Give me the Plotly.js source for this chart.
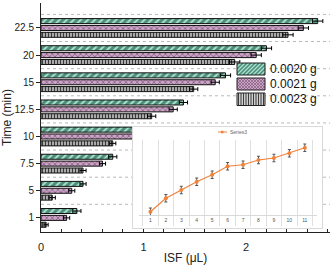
<!DOCTYPE html>
<html><head><meta charset="utf-8">
<script src="https://cdn.plot.ly/plotly-3.0.1.min.js"></script>
<style>html,body{margin:0;padding:0;background:#fff}#c{width:330px;height:265px}</style>
</head><body><div id="c"></div>
<script>
// main bar chart data (ISF in µL by time in min)
var times = ['1','5','7.5','10','12.5','15','20','22.5'];
var g20 = [0.35, 0.41, 0.70, 1.05, 1.39, 1.80, 2.20, 2.70];
var g21 = [0.25, 0.30, 0.60, 0.95, 1.29, 1.70, 2.10, 2.56];
var g23 = [0.05, 0.11, 0.41, 0.70, 1.08, 1.49, 1.89, 2.41];
var e20 = [0.04, 0.03, 0.04, 0.04, 0.04, 0.05, 0.05, 0.05];
var e21 = [0.03, 0.03, 0.03, 0.04, 0.04, 0.04, 0.05, 0.05];
var e23 = [0.02, 0.03, 0.03, 0.03, 0.04, 0.04, 0.05, 0.05];
var seriesNames = ['0.0020 g', '0.0021 g', '0.0023 g'];
// inset line chart data
var insetCats = ['1','2','3','4','5','6','7','8','9','10','11'];
var insetVals = [0.13, 0.67, 1.00, 1.33, 1.61, 1.95, 2.01, 2.20, 2.28, 2.47, 2.69];
var insetErr = [0.15, 0.15, 0.15, 0.15, 0.15, 0.15, 0.15, 0.15, 0.15, 0.15, 0.15];
var insetName = 'Series3';

var W = 330, H = 265, ML = 41, MR = 0, MT = 3, MB = 33;
var PW = W - ML - MR, PH = H - MT - MB;
function px(x) { return (x - ML) / PW; }          // pixel -> paper x
function py(y) { return (H - MB - y) / PH; }      // pixel -> paper y

var FONT = 'Liberation Sans, Arial, sans-serif';
var styles = [
  {bg: '#4e8d7a', fg: '#a9e3cf', shape: '/', size: 5, sol: 0.4},
  {bg: '#cba5c6', fg: '#7a4c74', shape: 'x', size: 4, sol: 0.3},
  {bg: '#cfcfcf', fg: '#3a3a3a', shape: '|', size: 3, sol: 0.5}
];
function barTrace(vals, errs, name, s) {
  return {
    type: 'bar', orientation: 'h', y: times, x: vals, name: name, showlegend: false,
    marker: {color: s.bg, line: {color: '#111', width: 1},
      pattern: {shape: s.shape, bgcolor: s.bg, fgcolor: s.fg, size: s.size, solidity: s.sol}},
    error_x: {type: 'data', array: errs, color: '#000', thickness: 1, width: 2},
    xaxis: 'x', yaxis: 'y'
  };
}
var traces = [
  barTrace(g23, e23, seriesNames[2], styles[2]),
  barTrace(g21, e21, seriesNames[1], styles[1]),
  barTrace(g20, e20, seriesNames[0], styles[0]),
  // carrier for the inset frame subplot (draws nothing)
  {type: 'scatter', mode: 'none', x: insetCats, y: insetVals, xaxis: 'x2', yaxis: 'y2',
   showlegend: false, hoverinfo: 'skip'},
  {type: 'scatter', mode: 'lines+markers', x: insetCats, y: insetVals, name: insetName,
   showlegend: false, xaxis: 'x3', yaxis: 'y3',
   line: {color: '#f0823a', width: 1.2}, marker: {color: '#f0823a', size: 4},
   error_y: {type: 'data', array: insetErr, color: '#555', thickness: 1, width: 1.5}}
];

var shapes = [];
// grid lines at category boundaries
for (var k = 0; k < times.length; k++) {
  var top = (k === times.length - 1);
  shapes.push({type: 'line', layer: 'below', xref: 'paper', yref: 'y', x0: 0, x1: 1,
    y0: k + 0.5, y1: k + 0.5,
    line: {color: top ? '#b8b8b8' : '#ececec', width: 1, dash: top ? 'dot' : 'solid'}});
}
// inset legend symbol
shapes.push({type: 'line', layer: 'above', xref: 'paper', yref: 'paper', x0: px(218), x1: px(227),
  y0: py(132), y1: py(132), line: {color: '#f0823a', width: 1}});
shapes.push({type: 'rect', layer: 'above', xref: 'paper', yref: 'paper', x0: px(221), x1: px(223.5),
  y0: py(133.3), y1: py(130.8), fillcolor: '#f0823a', line: {width: 0}});

// main legend (manual, wide swatches)
var annotations = [];
var legRows = [[63, 75, 69], [78, 90, 83.5], [93, 105.5, 99]];
var sx0 = 237, sx1 = 265;
legRows.forEach(function (r, i) {
  var s = styles[i];
  var layerTop = {layer: 'above', xref: 'paper', yref: 'paper'};
  shapes.push(Object.assign({type: 'rect', x0: px(sx0), x1: px(sx1), y0: py(r[1]), y1: py(r[0]),
    fillcolor: s.bg, line: {width: 0}}, layerTop));
  var h = r[1] - r[0];
  if (s.shape === '/') {
    for (var x = sx0 - h; x < sx1; x += 4) {
      var xa = Math.max(x, sx0), ya = r[1] - (xa - x);
      var xb = Math.min(x + h, sx1), yb = r[1] - (xb - x);
      shapes.push(Object.assign({type: 'line', x0: px(xa), y0: py(ya), x1: px(xb), y1: py(yb),
        line: {color: s.fg, width: 1.3}}, layerTop));
    }
  } else if (s.shape === 'x') {
    for (var x2 = sx0 - h; x2 < sx1; x2 += 3) {
      var a = Math.max(x2, sx0), b = Math.min(x2 + h, sx1);
      shapes.push(Object.assign({type: 'line', x0: px(a), y0: py(r[1] - (a - x2)), x1: px(b), y1: py(r[1] - (b - x2)),
        line: {color: s.fg, width: 0.6}}, layerTop));
      shapes.push(Object.assign({type: 'line', x0: px(a), y0: py(r[0] + (a - x2)), x1: px(b), y1: py(r[0] + (b - x2)),
        line: {color: s.fg, width: 0.6}}, layerTop));
    }
  } else {
    for (var x3 = sx0 + 1.5; x3 < sx1; x3 += 2.5) {
      shapes.push(Object.assign({type: 'line', x0: px(x3), x1: px(x3), y0: py(r[1]), y1: py(r[0]),
        line: {color: s.fg, width: 1}}, layerTop));
    }
  }
  shapes.push(Object.assign({type: 'rect', x0: px(sx0), x1: px(sx1), y0: py(r[1]), y1: py(r[0]),
    line: {color: '#222', width: 1}}, layerTop));
  annotations.push({xref: 'paper', yref: 'paper', x: px(268), y: py(r[2]), xanchor: 'left',
    yanchor: 'middle', text: seriesNames[i], showarrow: false, font: {size: 12, color: '#111'}});
});
annotations.push({xref: 'paper', yref: 'paper', x: px(227.5), y: py(132), xanchor: 'left', yanchor: 'middle',
  text: insetName, showarrow: false, font: {size: 5, color: '#666'}});

var layout = {
  width: W, height: H,
  margin: {l: ML, r: MR, t: MT, b: MB},
  paper_bgcolor: '#fff', plot_bgcolor: '#fff',
  font: {family: FONT, color: '#222'},
  barmode: 'group', bargap: 0.24, bargroupgap: 0.27,
  showlegend: false,
  xaxis: {range: [0, 2.82], dtick: 1, tick0: 0, ticks: 'inside', ticklen: 4, tickcolor: '#222',
    minor: {dtick: 0.2, ticks: 'inside', ticklen: 3, tickcolor: '#222'},
    ticklabelstandoff: 5,
    showline: true, linecolor: '#222', linewidth: 1, showgrid: false, zeroline: false,
    tickfont: {size: 11}, title: {text: 'ISF (μL)', font: {size: 12}, standoff: 2}},
  yaxis: {type: 'category', range: [-0.52, 7.92], ticks: 'outside', ticklen: 4, tickcolor: '#222',
    showline: true, linecolor: '#222', linewidth: 1, showgrid: false, zeroline: false,
    tickfont: {size: 10}, title: {text: 'Time (min)', font: {size: 12}, standoff: 4}},
  // inset frame
  xaxis2: {domain: [px(133), px(322)], anchor: 'y2', range: [0, 1], showline: true, mirror: true,
    linecolor: '#d9d9d9', showgrid: false, zeroline: false, showticklabels: false, ticks: ''},
  yaxis2: {domain: [py(228), py(127)], anchor: 'x2', range: [0, 1], showline: true, mirror: true,
    linecolor: '#d9d9d9', showgrid: false, zeroline: false, showticklabels: false, ticks: ''},
  // inset plot
  xaxis3: {domain: [px(138.5), px(316.7)], anchor: 'y3', type: 'category', tickson: 'boundaries',
    ticks: 'outside', ticklen: 10, tickcolor: '#e0e0e0', showgrid: true, gridcolor: '#e0e0e0',
    showline: true, linecolor: '#d9d9d9', zeroline: false, tickfont: {size: 5, color: '#555'}},
  yaxis3: {domain: [py(215), py(140)], anchor: 'x3', range: [0, 3], showgrid: false, zeroline: false,
    showticklabels: false, ticks: '', showline: false},
  shapes: shapes,
  annotations: annotations
};
Plotly.newPlot('c', traces, layout, {displayModeBar: false, staticPlot: true});
</script></body></html>
